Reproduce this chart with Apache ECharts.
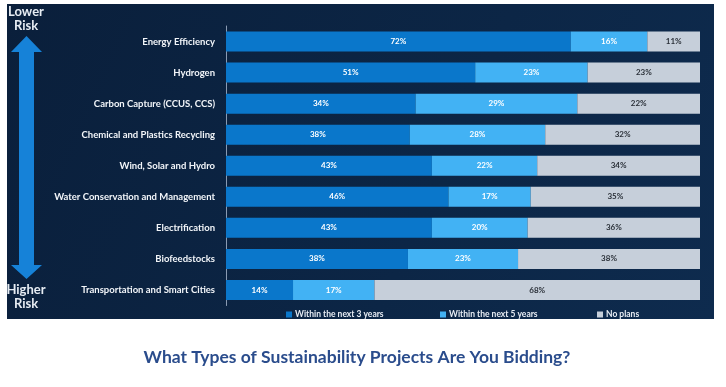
<!DOCTYPE html>
<html><head><meta charset="utf-8">
<script src="https://cdn.jsdelivr.net/npm/echarts@6/dist/echarts.min.js"></script>
<style>html,body{margin:0;padding:0;background:#fff}#c{width:726px;height:387px}</style>
</head><body><div id="c"></div>
<script>
const categories = ['Energy Efficiency','Hydrogen','Carbon Capture (CCUS, CCS)','Chemical and Plastics Recycling','Wind, Solar and Hydro','Water Conservation and Management','Electrification','Biofeedstocks','Transportation and Smart Cities'];
const within3 = [72,51,34,38,43,46,43,38,14];
const within5 = [16,23,29,28,22,17,20,23,17];
const noPlans = [11,23,22,32,34,35,36,38,68];
const seriesNames = ['Within the next 3 years','Within the next 5 years','No plans'];
const titleText = 'What Types of Sustainability Projects Are You Bidding?';

const raw = [within3, within5, noPlans];
const totals = categories.map((_, i) => within3[i] + within5[i] + noPlans[i]);
const colors = ['#0a77cb', '#42b2f4', '#c6cfda'];
const labelColors = ['#ffffff', '#ffffff', '#2a3038'];
const FONT = 'Lato';

const chart = echarts.init(document.getElementById('c'));
const series = raw.map((arr, s) => ({
  name: seriesNames[s],
  type: 'bar',
  stack: 'total',
  barWidth: 20,
  itemStyle: { color: colors[s] },
  label: {
    show: true, position: 'inside',
    color: labelColors[s], fontSize: 8, fontWeight: 'bold', fontFamily: FONT,
    formatter: p => raw[s][p.dataIndex] + '%'
  },
  data: arr.map((v, i) => v / totals[i] * 100)
}));

const legends = [
  { left: 281, name: seriesNames[0] },
  { left: 435, name: seriesNames[1] },
  { left: 592, name: seriesNames[2] }
].map(l => ({
  left: l.left, top: 305, data: [l.name],
  icon: 'rect', itemWidth: 6, itemHeight: 6, itemGap: 0,
  textStyle: { color: '#e8edf4', fontSize: 8.5, fontWeight: 'bold', fontFamily: FONT, padding: [0, 0, 0, -2] },
  selectedMode: false
}));

chart.setOption({
  animation: false,
  textStyle: { fontFamily: FONT },
  graphic: [
    { type: 'rect', left: 7, top: 4, shape: { width: 707, height: 315 }, style: {
      fill: new echarts.graphic.LinearGradient(0, 0, 1, 1, [
        { offset: 0, color: '#0a1f3b' }, { offset: 0.6, color: '#0c2646' }, { offset: 1, color: '#0e2b4e' }
      ]) }, z: -10 },
    { type: 'polygon', shape: { points: [[26.5,36],[42,52],[34,52],[34,265],[42,265],[26.5,279],[11,265],[19,265],[19,52],[11,52]] },
      style: { fill: '#1682d8' }, z: 1 },
    { type: 'text', x: 26, y: 5, style: { text: 'Lower\nRisk', fill: '#e6ecf3', font: 'bold 13px Lato', align: 'center', lineHeight: 14 } },
    { type: 'text', x: 26, y: 283, style: { text: 'Higher\nRisk', fill: '#e6ecf3', font: 'bold 13px Lato', align: 'center', lineHeight: 14 } },
    { type: 'text', x: 357, y: 348, style: { text: titleText, fill: '#2a4c8c', font: 'bold 17.5px Lato', align: 'center' } }
  ],
  legend: legends,
  grid: { left: 226, right: 26, top: 26, bottom: 81.5, containLabel: false },
  xAxis: { type: 'value', min: 0, max: 100, show: false },
  yAxis: {
    type: 'category', data: categories, inverse: true,
    axisLine: { show: true, lineStyle: { color: '#8a9bb3', width: 1 } },
    axisTick: { show: false },
    axisLabel: { color: '#f2f5f9', fontSize: 9.5, fontWeight: 'bold', fontFamily: FONT, margin: 11 }
  },
  series: series
});
</script></body></html>
